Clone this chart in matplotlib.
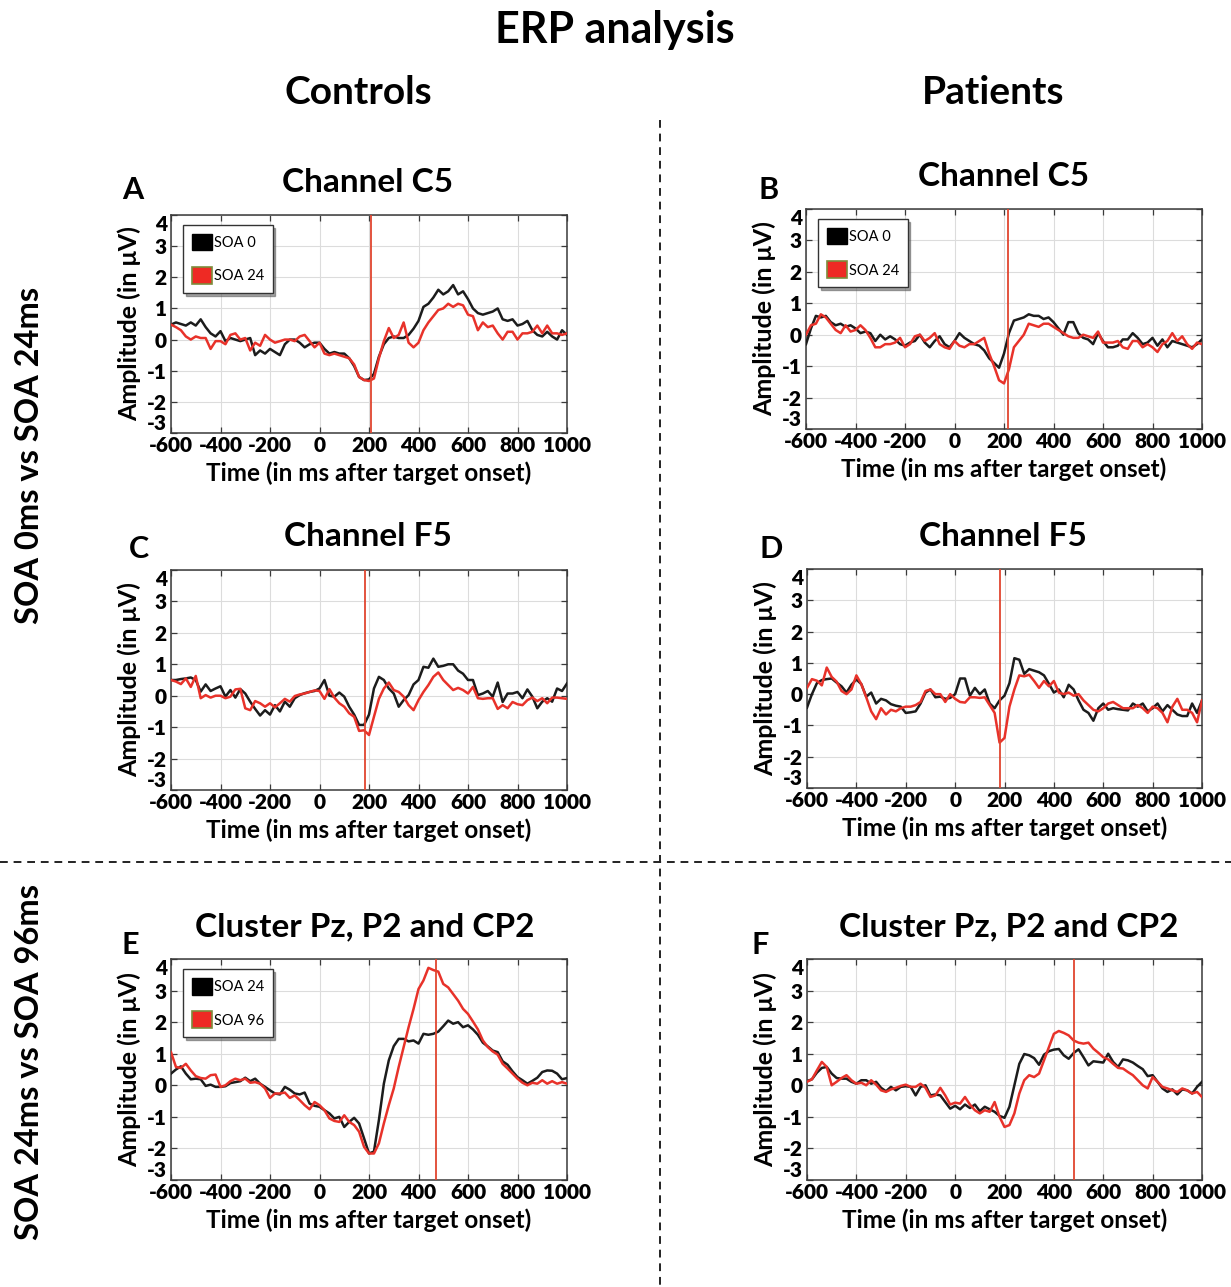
import numpy as np
import matplotlib
matplotlib.use("Agg")
import matplotlib.pyplot as plt
from matplotlib.lines import Line2D
from matplotlib.patches import Patch

plt.rcParams['font.family'] = ['Lato', 'DejaVu Sans']
plt.rcParams['font.weight'] = 'bold'
plt.rcParams['axes.labelweight'] = 'bold'
plt.rcParams['axes.unicode_minus'] = False

# ---------------- data (amplitude in microvolts, sampled every 20 ms) ----------------
time_ms = np.arange(-600, 1001, 20)

a_black = [0.48, 0.55, 0.5, 0.45, 0.55, 0.45, 0.65, 0.4, 0.2, 0.1, 0.27, -0.05, 0.05, 0.0, -0.05, 0.0,
           0.05, -0.5, -0.35, -0.45, -0.3, -0.4, -0.5, -0.15, 0.0, 0.0, -0.1, -0.25, -0.15, -0.1, -0.1,
           -0.3, -0.45, -0.4, -0.45, -0.45, -0.6, -0.85, -1.2, -1.3, -1.28, -1.1, -0.55, -0.15, 0.05, 0.1,
           0.05, 0.05, 0.15, 0.35, 0.6, 1.05, 1.15, 1.35, 1.6, 1.45, 1.55, 1.75, 1.45, 1.55, 1.3, 1.0,
           0.85, 0.8, 0.85, 0.9, 1.0, 0.65, 0.6, 0.65, 0.45, 0.5, 0.6, 0.3, 0.15, 0.1, 0.25, 0.1, 0.0,
           0.3, 0.15]
a_red = [0.48, 0.4, 0.3, 0.1, 0.0, 0.1, 0.05, 0.05, -0.3, -0.05, -0.05, -0.15, 0.15, 0.2, 0.0, 0.05,
         -0.35, -0.1, -0.2, 0.15, 0.0, -0.1, -0.05, 0.0, 0.0, -0.05, 0.1, 0.15, -0.05, -0.25, -0.1,
         -0.45, -0.5, -0.45, -0.5, -0.55, -0.6, -0.8, -1.2, -1.3, -1.33, -1.25, -0.6, -0.05, 0.37, 0.05,
         0.15, 0.55, -0.1, -0.25, -0.1, 0.3, 0.55, 0.75, 0.95, 1.0, 1.15, 1.05, 1.15, 1.1, 0.8, 0.75,
         0.3, 0.55, 0.4, 0.45, 0.2, 0.0, 0.25, 0.25, 0.0, 0.2, 0.2, 0.25, 0.45, 0.2, 0.45, 0.2, 0.2,
         0.15, 0.2]

b_black = [-0.3, 0.2, 0.6, 0.55, 0.6, 0.4, 0.3, 0.35, 0.25, 0.3, 0.2, 0.05, 0.1, 0.05, -0.2, 0.0,
           -0.15, -0.05, -0.15, -0.3, -0.35, -0.25, -0.2, 0.0, -0.25, -0.4, -0.2, -0.05, -0.3, -0.4,
           -0.2, 0.05, -0.1, -0.2, -0.3, -0.35, -0.5, -0.75, -0.9, -1.05, -0.6, 0.05, 0.45, 0.5, 0.55,
           0.65, 0.6, 0.6, 0.5, 0.55, 0.4, 0.2, 0.0, 0.4, 0.4, 0.05, -0.1, -0.15, -0.3, 0.05, -0.2,
           -0.4, -0.4, -0.35, -0.15, -0.15, 0.05, -0.1, -0.3, -0.25, -0.1, -0.35, -0.15, -0.4, -0.2,
           -0.25, -0.3, -0.35, -0.4, -0.3, -0.15]
b_red = [0.0, 0.3, 0.35, 0.65, 0.55, 0.35, 0.15, 0.05, 0.3, 0.1, 0.15, 0.3, 0.15, -0.1, -0.4, -0.4,
         -0.3, -0.3, -0.25, -0.1, -0.4, -0.3, -0.05, 0.0, -0.2, -0.1, 0.05, -0.3, -0.4, -0.45, -0.2,
         -0.35, -0.4, -0.3, -0.3, -0.2, -0.1, -0.6, -1.0, -1.45, -1.55, -1.1, -0.4, -0.2, 0.0, 0.35,
         0.3, 0.25, 0.35, 0.35, 0.25, 0.15, 0.05, -0.05, -0.1, -0.1, 0.0, -0.05, -0.1, 0.1, -0.25,
         -0.25, -0.25, -0.2, -0.4, -0.45, -0.2, -0.2, -0.4, -0.3, -0.4, -0.55, -0.3, -0.2, 0.05,
         -0.2, -0.05, -0.3, -0.45, -0.25, -0.3]

c_black = [0.5, 0.5, 0.53, 0.55, 0.58, 0.5, 0.13, 0.36, 0.15, 0.23, 0.3, -0.03, 0.18, -0.06, 0.21,
           0.07, -0.19, -0.42, -0.63, -0.46, -0.6, -0.3, -0.5, -0.19, -0.35, -0.08, 0.02, 0.08, 0.12,
           0.15, 0.23, 0.5, 0.0, -0.03, 0.1, -0.03, -0.35, -0.6, -0.93, -0.93, -0.6, 0.23, 0.6, 0.5,
           0.23, 0.07, -0.35, -0.14, 0.02, 0.36, 0.5, 0.92, 0.89, 1.18, 0.92, 0.95, 1.0, 1.0, 0.8, 0.7,
           0.5, 0.5, 0.02, 0.07, 0.15, -0.03, 0.42, -0.2, 0.07, 0.07, 0.12, -0.08, 0.2, -0.03, -0.4,
           -0.19, -0.08, -0.19, 0.23, 0.15, 0.39]
c_red = [0.5, 0.45, 0.37, 0.55, 0.28, 0.63, -0.08, 0.02, -0.06, 0.0, 0.0, -0.08, -0.03, 0.2, 0.22,
         -0.4, -0.46, -0.17, -0.24, -0.35, -0.24, -0.37, -0.24, -0.1, -0.19, -0.01, 0.04, 0.07, 0.12,
         0.17, 0.15, -0.1, 0.21, -0.06, -0.24, -0.35, -0.56, -0.67, -1.12, -1.1, -1.25, -0.67, -0.1,
         0.23, 0.42, 0.18, 0.12, -0.03, -0.3, -0.46, -0.14, 0.12, 0.34, 0.6, 0.74, 0.5, 0.34, 0.18,
         0.25, 0.18, 0.07, 0.28, -0.08, -0.1, -0.08, -0.08, -0.42, -0.3, -0.4, -0.2, -0.27, -0.3,
         -0.14, -0.06, -0.17, -0.08, -0.24, -0.06, -0.06, -0.08, -0.1]

d_black = [-0.43, 0.0, 0.35, 0.45, 0.48, 0.5, 0.37, 0.25, 0.05, 0.3, 0.47, 0.32, -0.08, 0.05, -0.3,
           -0.15, -0.2, -0.32, -0.37, -0.4, -0.6, -0.58, -0.55, -0.3, 0.05, 0.15, -0.1, -0.08, -0.15,
           -0.12, 0.0, 0.5, 0.5, -0.05, 0.2, 0.0, 0.15, -0.3, -0.45, -0.2, -0.05, 0.35, 1.15, 1.1,
           0.65, 0.8, 0.75, 0.7, 0.6, 0.33, 0.05, 0.15, -0.1, 0.3, 0.15, -0.2, -0.5, -0.6, -0.85,
           -0.45, -0.3, -0.5, -0.45, -0.48, -0.5, -0.52, -0.3, -0.4, -0.3, -0.55, -0.45, -0.3, -0.55,
           -0.35, -0.5, -0.65, -0.7, -0.7, -0.3, -0.6, -0.2]
d_red = [0.2, 0.48, 0.43, 0.28, 0.85, 0.55, 0.4, 0.1, 0.0, 0.15, 0.6, 0.32, -0.1, -0.55, -0.8,
         -0.45, -0.65, -0.5, -0.55, -0.45, -0.4, -0.4, -0.35, -0.25, 0.1, 0.15, 0.0, 0.0, -0.25, 0.0,
         -0.15, -0.25, -0.27, -0.1, -0.1, -0.12, -0.1, -0.35, -0.6, -1.55, -1.4, -0.4, 0.15, 0.6,
         0.57, 0.62, 0.42, 0.2, 0.42, 0.25, 0.42, 0.05, 0.0, 0.05, -0.05, 0.0, -0.2, -0.35, -0.5,
         -0.55, -0.45, -0.3, -0.25, -0.35, -0.45, -0.45, -0.45, -0.35, -0.45, -0.6, -0.4, -0.45,
         -0.6, -0.9, -0.4, -0.15, -0.5, -0.5, -0.6, -0.9, -0.2]

e_black = [0.37, 0.5, 0.6, 0.37, 0.19, 0.21, 0.19, -0.02, 0.02, -0.05, -0.05, -0.03, 0.07, 0.1, 0.13,
           0.24, 0.13, 0.21, 0.05, -0.05, -0.16, -0.26, -0.29, -0.05, -0.14, -0.26, -0.29, -0.23,
           -0.58, -0.65, -0.68, -0.79, -0.89, -1.05, -1.0, -1.32, -1.16, -1.03, -1.21, -1.68, -2.16,
           -2.1, -1.1, 0.05, 0.79, 1.24, 1.47, 1.47, 1.39, 1.42, 1.32, 1.63, 1.6, 1.63, 1.7, 1.87,
           2.05, 1.95, 2.0, 1.84, 1.9, 1.77, 1.6, 1.35, 1.23, 1.1, 1.05, 0.76, 0.65, 0.44, 0.26, 0.16,
           0.05, 0.14, 0.24, 0.42, 0.47, 0.46, 0.37, 0.19, 0.23]
e_red = [1.05, 0.58, 0.55, 0.68, 0.47, 0.29, 0.23, 0.21, 0.32, 0.34, -0.05, 0.0, 0.13, 0.21, 0.16,
         0.21, 0.08, 0.1, 0.05, -0.1, -0.4, -0.26, -0.26, -0.23, -0.4, -0.32, -0.47, -0.63, -0.76,
         -0.53, -0.63, -0.79, -1.05, -1.13, -1.16, -0.95, -1.16, -1.26, -1.47, -1.95, -2.16, -2.16,
         -1.84, -1.21, -0.63, -0.1, 0.58, 1.21, 1.84, 2.42, 3.05, 3.32, 3.72, 3.65, 3.6, 3.21, 3.1,
         2.89, 2.68, 2.42, 2.26, 2.02, 1.77, 1.42, 1.21, 1.07, 0.97, 0.68, 0.53, 0.37, 0.21, 0.08,
         0.0, 0.08, 0.05, 0.16, 0.05, 0.13, 0.05, 0.1, 0.05]

f_black = [0.13, 0.19, 0.4, 0.55, 0.58, 0.37, 0.23, 0.21, 0.21, 0.11, 0.05, 0.16, 0.16, 0.05, 0.11,
           -0.08, -0.19, -0.05, -0.16, -0.05, -0.03, -0.05, -0.32, -0.05, 0.0, -0.32, -0.29, -0.32,
           -0.53, -0.74, -0.65, -0.76, -0.61, -0.72, -0.61, -0.82, -0.68, -0.76, -0.84, -0.97, -1.03,
           -0.68, 0.0, 0.68, 0.99, 0.95, 0.86, 0.65, 0.97, 1.08, 1.13, 1.15, 0.95, 0.84, 1.02, 1.14,
           0.89, 0.63, 0.76, 0.74, 0.72, 1.0, 0.74, 0.58, 0.82, 0.79, 0.72, 0.61, 0.51, 0.29, 0.32,
           0.11, -0.1, -0.21, -0.13, -0.29, -0.13, -0.16, -0.26, -0.05, 0.11]
f_red = [0.11, 0.19, 0.47, 0.74, 0.58, 0.0, 0.11, 0.23, 0.32, 0.16, 0.05, 0.08, 0.0, 0.16, 0.02,
         -0.16, -0.21, -0.13, -0.08, -0.02, 0.02, -0.05, -0.05, 0.05, -0.08, -0.37, -0.32, -0.08,
         -0.32, -0.61, -0.55, -0.58, -0.37, -0.61, -0.79, -0.89, -0.79, -0.84, -0.53, -1.0, -1.32,
         -1.26, -0.89, -0.26, 0.16, 0.32, 0.26, 0.37, 0.79, 1.21, 1.63, 1.72, 1.66, 1.58, 1.42, 1.35,
         1.32, 1.35, 1.16, 1.03, 0.89, 0.82, 0.68, 0.55, 0.53, 0.42, 0.32, 0.16, 0.0, -0.1, 0.26,
         0.11, -0.05, -0.1, -0.16, -0.21, -0.1, -0.16, -0.26, -0.21, -0.37]

marker_ms = [210, 215, 183, 180, 472, 480]
panel_letters = ["A", "B", "C", "D", "E", "F"]
panel_titles = ["Channel C5", "Channel C5", "Channel F5", "Channel F5",
                "Cluster Pz, P2 and CP2", "Cluster Pz, P2 and CP2"]
legend_labels = [["SOA 0", "SOA 24"], ["SOA 0", "SOA 24"], None, None, ["SOA 24", "SOA 96"], None]
series = [(a_black, a_red), (b_black, b_red), (c_black, c_red),
          (d_black, d_red), (e_black, e_red), (f_black, f_red)]
x_ticks = [-600, -400, -200, 0, 200, 400, 600, 800, 1000]
y_ticks = [-3, -2, -1, 0, 1, 2, 3, 4]

# ---------------- layout (pixel boxes of the reference) ----------------
W, H = 1231, 1287
fig = plt.figure(figsize=(W / 100, H / 100), dpi=100)


def fx(px):
    return px / W


def fy(py):
    return 1 - py / H


# left, top, right, bottom in pixels
boxes = [(171, 215, 567, 433), (806, 209, 1202, 429),
         (171, 570, 567, 790), (807, 569, 1202, 788),
         (171, 959, 567, 1180), (807, 959, 1202, 1180)]
letter_pos = [(133, 190), (769, 190), (139, 549), (771, 549), (130, 945), (760, 945)]
title_pos = [(368, 183), (1004, 176), (368, 537), (1003, 537), (365, 927), (1009, 927)]

BLACK = '#1c1c1c'
RED = '#e8322a'

for i in range(6):
    l, t, r, b = boxes[i]
    ax = fig.add_axes([fx(l), fy(b), fx(r - l), (b - t) / H])
    blk, red = series[i]
    ax.plot(time_ms, blk, color=BLACK, lw=1.8, zorder=3)
    ax.plot(time_ms, red, color=RED, lw=1.8, zorder=3)
    ax.axvline(marker_ms[i], color='#e0452f', lw=1.3, zorder=4)
    ax.set_xlim(-600, 1000)
    ax.set_ylim(-3, 4)
    ax.set_xticks(x_ticks)
    ax.set_yticks(y_ticks)
    ax.grid(True, color='#dcdcdc', lw=0.8)
    ax.set_axisbelow(True)
    for s in ax.spines.values():
        s.set_color('#3a3a3a')
        s.set_linewidth(1.1)
    ax.tick_params(direction='in', length=4, top=True, right=True, width=0.9,
                   labelsize=15, colors='#3a3a3a', labelcolor='black')
    ax.tick_params(axis='x', pad=2.5)
    ax.tick_params(axis='y', pad=3)
    for lab in ax.get_xticklabels() + ax.get_yticklabels():
        lab.set_fontweight('heavy')
    yt = ax.yaxis.get_major_ticks()
    yt[0].label1.set_verticalalignment('bottom')
    yt[-1].label1.set_verticalalignment('top')
    ax.set_xlabel('Time (in ms after target onset)', fontsize=17.5, fontweight='bold', labelpad=4)
    ax.set_ylabel('Amplitude (in μV)', fontsize=18, fontweight='bold', labelpad=4)

    if legend_labels[i] is not None:
        handles = [Patch(facecolor='black', edgecolor='black', lw=1.0),
                   Patch(facecolor='#ee2a24', edgecolor='#7d8c3c', lw=1.2)]
        leg = ax.legend(handles, legend_labels[i], loc='upper left',
                        bbox_to_anchor=(0.03, 0.955), borderaxespad=0,
                        prop={'size': 10.5, 'weight': 'normal'},
                        handlelength=1.4, handleheight=1.4,
                        handletextpad=0.1, labelspacing=1.15, borderpad=0.6,
                        fancybox=False, shadow=True, framealpha=1)
        leg.get_frame().set_edgecolor('#333333')
        leg.get_frame().set_linewidth(1.0)

    fig.text(fx(letter_pos[i][0]), fy(letter_pos[i][1]), panel_letters[i],
             fontsize=22, fontweight='bold', ha='center', va='center')
    fig.text(fx(title_pos[i][0]), fy(title_pos[i][1]), panel_titles[i],
             fontsize=24, fontweight='bold', ha='center', va='center')

# ---------------- figure-level text ----------------
fig.text(fx(615), fy(30), 'ERP analysis', fontsize=31, fontweight='bold', ha='center', va='center')
fig.text(fx(358), fy(93), 'Controls', fontsize=28, fontweight='bold', ha='center', va='center')
fig.text(fx(993), fy(93), 'Patients', fontsize=28, fontweight='bold', ha='center', va='center')
fig.text(fx(30), fy(455), 'SOA 0ms vs SOA 24ms', fontsize=23.5, fontweight='bold',
         ha='center', va='center', rotation=90)
fig.text(fx(30), fy(1062), 'SOA 24ms vs SOA 96ms', fontsize=23.5, fontweight='bold',
         ha='center', va='center', rotation=90)

# dashed separators
fig.add_artist(Line2D([fx(660), fx(660)], [fy(120), fy(1287)], transform=fig.transFigure,
                      color='#222222', lw=1.4, ls=(0, (4, 3))))
fig.add_artist(Line2D([0, 1], [fy(862), fy(862)], transform=fig.transFigure,
                      color='#222222', lw=1.4, ls=(0, (4, 3))))

fig.savefig('out.png', dpi=100, facecolor='white')
